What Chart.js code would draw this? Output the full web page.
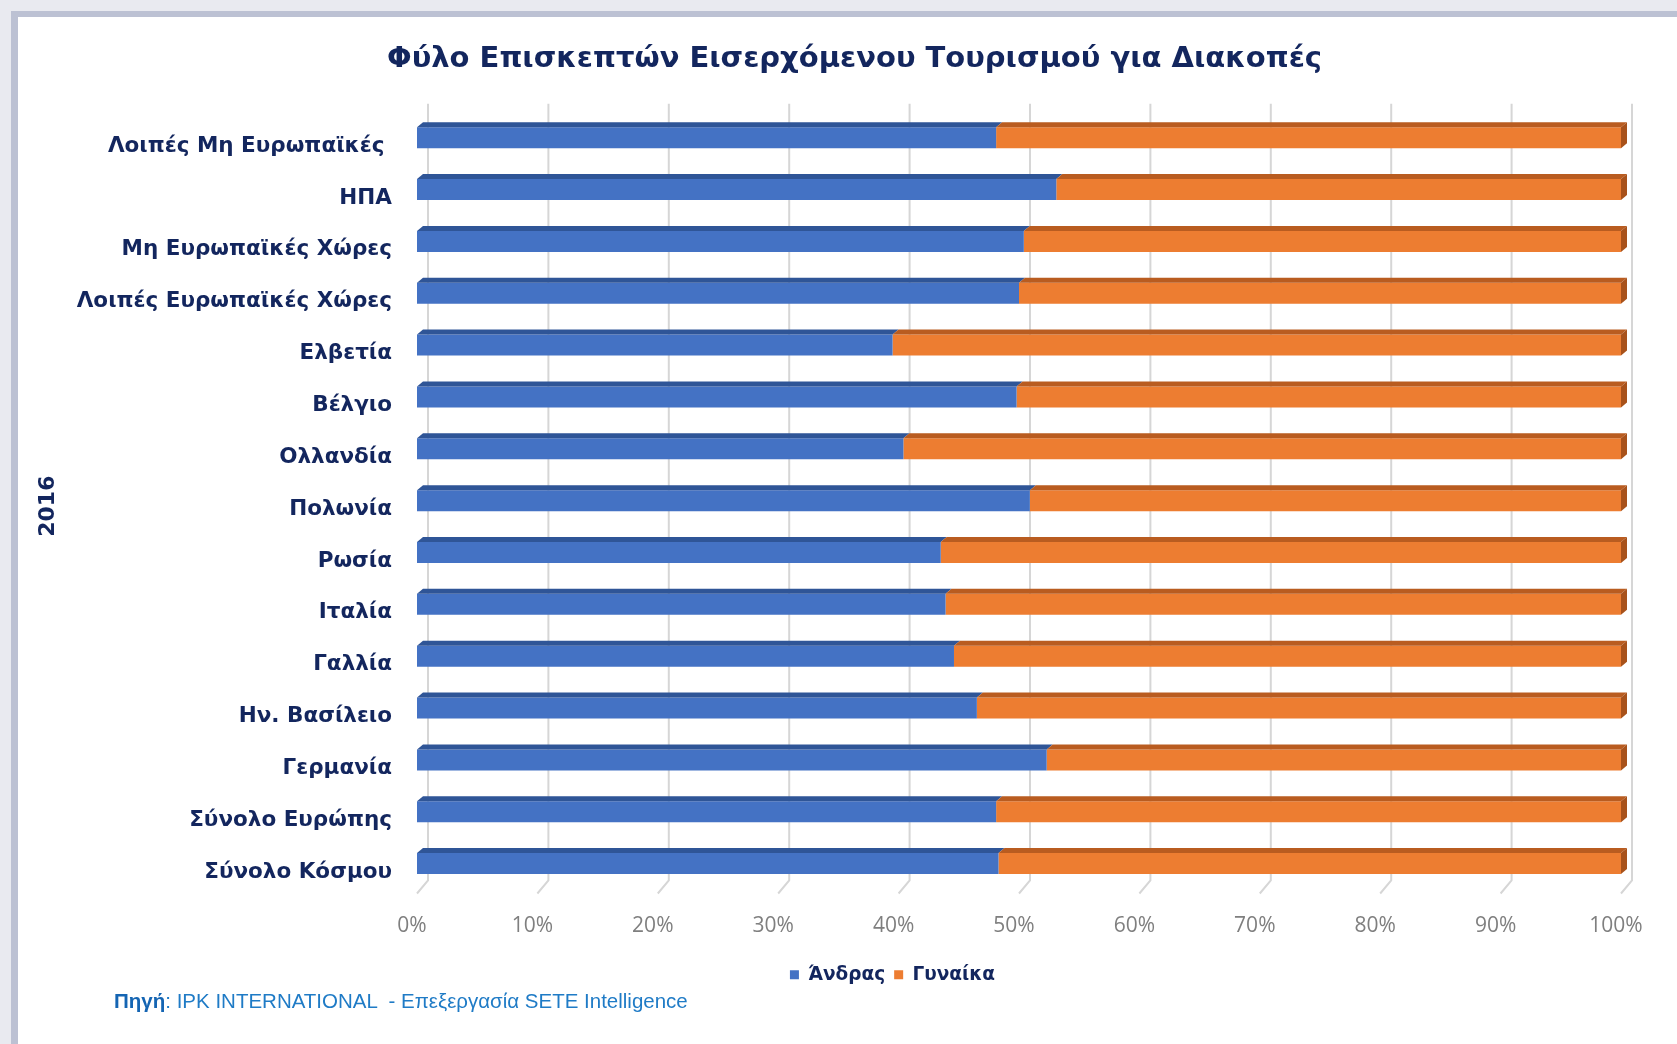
<!DOCTYPE html>
<html>
<head>
<meta charset="utf-8">
<script src="https://cdn.jsdelivr.net/npm/chart.js@4.4.1/dist/chart.umd.min.js"></script>
<style>
    body { margin: 0; background: #e9eaf0; width: 1677px; height: 1044px; overflow: hidden; position: relative; }
    #shade { position: absolute; left: 11px; top: 11px; width: 1666px; height: 1033px; background: #bcc1d3; }
    #card { position: absolute; left: 18px; top: 17px; width: 1659px; height: 1027px; background: #ffffff; }
    #chartBox { position: absolute; left: 0; top: 0; width: 1677px; height: 1044px; }
    #source { position: absolute; left: 114px; top: 989px; font-family: "Liberation Sans", sans-serif; font-size: 20.5px; color: #1f7bc6; white-space: pre; }
    #source b { color: #1565b3; }
</style>
</head>
<body>
<div id="shade"></div>
<div id="card"></div>
<div id="chartBox"><canvas id="genderChart" width="1677" height="1044"></canvas></div>
<div id="source"><b>Πηγή</b>: IPK INTERNATIONAL  - Επεξεργασία SETE Intelligence</div>
<script>
/*eslint no-undef: 0*/

const categories = [
    'Λοιπές Μη Ευρωπαϊκές ', 'ΗΠΑ', 'Μη Ευρωπαϊκές Χώρες', 'Λοιπές Ευρωπαϊκές Χώρες',
    'Ελβετία', 'Βέλγιο', 'Ολλανδία', 'Πολωνία', 'Ρωσία', 'Ιταλία', 'Γαλλία',
    'Ην. Βασίλειο', 'Γερμανία', 'Σύνολο Ευρώπης', 'Σύνολο Κόσμου'
];
const seriesNames = ['Άνδρας', 'Γυναίκα'];
const maleShare = [48.1, 53.1, 50.4, 50.0, 39.5, 49.8, 40.4, 50.9, 43.5, 43.9, 44.6, 46.5, 52.3, 48.1, 48.3];
const femaleShare = [51.9, 46.9, 49.6, 50.0, 60.5, 50.2, 59.6, 49.1, 56.5, 56.1, 55.4, 53.5, 47.7, 51.9, 51.7];
const xTickValues = [0, 10, 20, 30, 40, 50, 60, 70, 80, 90, 100];

const navy = '#13265e';
// front, top face, end face
const BarColors = [
    ['#4472c4', '#2f5597', '#2b4f8c'],
    ['#ed7d31', '#b95c20', '#a8521b']
];
const depth = { dx: 6, dy: 5 };
const wall = { dx: 11, up: 8 };

// back wall grid lines with the little floor diagonal
const wallGrid = {
    id: 'wallGrid',
    beforeDatasetsDraw(chart) {
        const { ctx, chartArea, scales } = chart;
        ctx.save();
        ctx.strokeStyle = '#d6d6d6';
        ctx.lineWidth = 2;
        xTickValues.forEach(v => {
            const x = scales.x.getPixelForValue(v);
            ctx.beginPath();
            ctx.moveTo(x + wall.dx, chartArea.top - wall.up);
            ctx.lineTo(x + wall.dx, chartArea.bottom - 9);
            ctx.lineTo(x, chartArea.bottom + 4);
            ctx.stroke();
        });
        ctx.restore();
    }
};

// fake 3d: top face on every bar, end face on the last series
const bars3d = {
    id: 'bars3d',
    afterDatasetsDraw(chart) {
        const ctx = chart.ctx;
        const last = chart.data.datasets.length - 1;
        ctx.save();
        chart.data.datasets.forEach((ds, i) => {
            const meta = chart.getDatasetMeta(i);
            meta.data.forEach(el => {
                const p = el.getProps(['x', 'y', 'base', 'height'], true);
                const l = Math.min(p.x, p.base);
                const r = Math.max(p.x, p.base);
                const t = p.y - p.height / 2;
                const b = p.y + p.height / 2;
                ctx.fillStyle = BarColors[i][1];
                ctx.beginPath();
                ctx.moveTo(l, t);
                ctx.lineTo(l + depth.dx, t - depth.dy);
                ctx.lineTo(r + depth.dx, t - depth.dy);
                ctx.lineTo(r, t);
                ctx.closePath();
                ctx.fill();
                if (i == last) {
                    ctx.fillStyle = BarColors[i][2];
                    ctx.beginPath();
                    ctx.moveTo(r, t);
                    ctx.lineTo(r + depth.dx, t - depth.dy);
                    ctx.lineTo(r + depth.dx, b - depth.dy);
                    ctx.lineTo(r, b);
                    ctx.closePath();
                    ctx.fill();
                }
            });
        });
        ctx.restore();
    }
};

// title and legend are centred a bit right of the canvas middle in the original
const shiftBoxes = {
    id: 'shiftBoxes',
    afterLayout(chart) {
        chart.titleBlock.left += 44;
        chart.titleBlock.right += 44;
        chart.legend.left += 82;
        chart.legend.right += 82;
    }
};

const ctx = document.getElementById('genderChart').getContext('2d');
window.genderChart = new Chart(ctx, {
    type: 'bar',
    data: {
        labels: categories,
        datasets: [
            {
                label: seriesNames[0],
                data: maleShare,
                backgroundColor: BarColors[0][0],
                borderWidth: 0,
                barPercentage: 0.405,
                categoryPercentage: 1.0
            },
            {
                label: seriesNames[1],
                data: femaleShare,
                backgroundColor: BarColors[1][0],
                borderWidth: 0,
                barPercentage: 0.405,
                categoryPercentage: 1.0
            }
        ]
    },
    options: {
        indexAxis: 'y',
        responsive: false,
        animation: false,
        layout: {
            padding: { left: 0, top: 0, right: 56, bottom: 50 }
        },
        plugins: {
            title: {
                display: true,
                text: 'Φύλο Επισκεπτών Εισερχόμενου Τουρισμού για Διακοπές',
                color: navy,
                font: { family: 'DejaVu Sans', size: 29, weight: 'bold', lineHeight: 1.2 },
                padding: { top: 42, bottom: 35 }
            },
            legend: {
                position: 'bottom',
                labels: {
                    color: navy,
                    font: { family: 'DejaVu Sans', size: 18.5, weight: 'bold' },
                    boxWidth: 9,
                    boxHeight: 9,
                    padding: 9
                }
            },
            tooltip: { enabled: false }
        },
        scales: {
            x: {
                stacked: true,
                min: 0,
                max: 100,
                afterFit: function (scale) { scale.height = 67; },
                afterBuildTicks: function (scale) {
                    scale.ticks = xTickValues.map(v => ({ value: v }));
                },
                grid: { display: false, drawTicks: false },
                border: { display: false },
                ticks: {
                    padding: 24,
                    labelOffset: -5,
                    color: '#7f7f7f',
                    font: { family: 'Open Sans', size: 21 },
                    callback: function (v) { return v + '%'; }
                }
            },
            y: {
                stacked: true,
                afterFit: function (scale) { scale.width = 417; },
                grid: { display: false, drawTicks: false },
                border: { display: false },
                ticks: {
                    padding: 25,
                    labelOffset: 8.5,
                    color: navy,
                    font: { family: 'DejaVu Sans', size: 21.5, weight: 'bold' }
                },
                title: {
                    display: true,
                    text: '2016\u2002',
                    color: navy,
                    font: { family: 'DejaVu Sans', size: 22, weight: 'bold', lineHeight: 1.2 },
                    padding: { top: 35, bottom: 0 }
                }
            }
        }
    },
    plugins: [wallGrid, bars3d, shiftBoxes]
});
</script>
</body>
</html>
